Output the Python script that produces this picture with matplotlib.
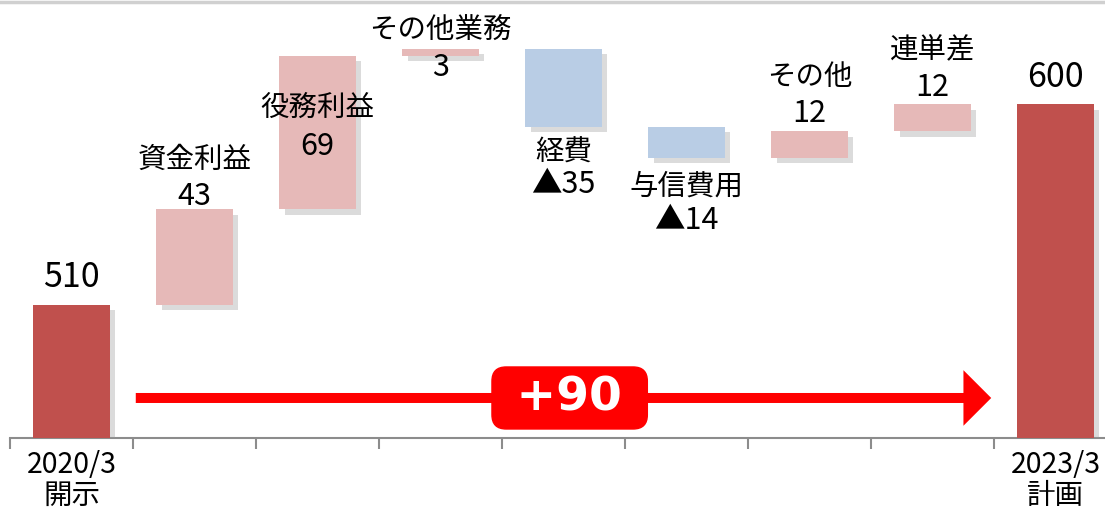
import numpy as np
import matplotlib.pyplot as plt
import matplotlib.patheffects as pe
from matplotlib.patches import FancyArrowPatch
from matplotlib.lines import Line2D

plt.rcParams["font.family"] = ["Noto Sans CJK JP", "DejaVu Sans"]

# data
steps = ["資金利益", "役務利益", "その他業務", "経費", "与信費用", "その他", "連単差"]
step_values = [43, 69, 3, -35, -14, 12, 12]
start_label = "2020/3\n開示"
end_label = "2023/3\n計画"
start_value = 510
end_value = 600
change_text = "+90"

# label placement (data y of name / value text), hand tuned
name_y = [575, 598.5, 633.5, 578.5, 563, 612.5, 624.5]
value_y = [558.5, 581, 616.5, 564, 548, 596, 607.5]

c_total = "#C0504D"
c_up = "#E6B9B8"
c_down = "#B9CDE5"

fig = plt.figure(figsize=(11.05, 5.12), dpi=100)
ax = fig.add_axes([10 / 1105, 74 / 512, 1107 / 1105, 438 / 512])

shadow = [pe.SimplePatchShadow(offset=(4, -4), shadow_rgbFace="0.6", alpha=0.35), pe.Normal()]
width = 0.62

# totals
for x, v in [(0, start_value), (8, end_value)]:
    b = ax.bar(x, v, width=width, color=c_total, zorder=3)
    b[0].set_path_effects(shadow)
    ax.text(x, v + 12, str(v), ha="center", va="center", fontsize=24.5)

# steps
level = start_value
for i, v in enumerate(step_values):
    x = i + 1
    bottom = level if v > 0 else level + v
    b = ax.bar(x, abs(v), bottom=bottom, width=width,
               color=c_up if v > 0 else c_down, zorder=3)
    b[0].set_path_effects(shadow)
    level += v
    ax.text(x, name_y[i], steps[i], ha="center", va="center", fontsize=20.5, zorder=4)
    txt = str(v) if v > 0 else "▲" + str(-v)
    ax.text(x, value_y[i], txt, ha="center", va="center", fontsize=22, zorder=4)

# arrow
arrow = FancyArrowPatch((0.5, 468), (7.5, 468), arrowstyle="simple,head_length=2.0,head_width=4.0,tail_width=0.72",
                        mutation_scale=10, color="red", lw=0, zorder=2)
ax.add_patch(arrow)
ax.text(4.05, 468, " " + change_text + " ", ha="center", va="center", fontsize=34, fontweight="bold",
        color="white", family=["DejaVu Sans"], zorder=5,
        bbox=dict(boxstyle="round,pad=0.18,rounding_size=0.3", fc="red", ec="red"))

ax.set_xlim(-0.5, 8.5)
ax.set_ylim(450, 647)
ax.set_yticks([])
for s in ["top", "right", "left"]:
    ax.spines[s].set_visible(False)
ax.spines["bottom"].set_color("#8C8C8C")
ax.spines["bottom"].set_linewidth(1.5)

labels = [start_label] + [""] * len(steps) + [end_label]
ax.set_xticks(np.arange(9))
ax.set_xticklabels(labels, fontsize=20.5, linespacing=1.0)
ax.tick_params(axis="x", which="major", length=0, pad=9)
ax.set_xticks(np.arange(-0.5, 8.6, 1), minor=True)
ax.tick_params(axis="x", which="minor", length=8, width=1.5, color="#8C8C8C")

fig.add_artist(Line2D([0, 1], [0.997, 0.997], color="#D0D0D0", lw=2.5))

fig.savefig("out.png", dpi=100)
